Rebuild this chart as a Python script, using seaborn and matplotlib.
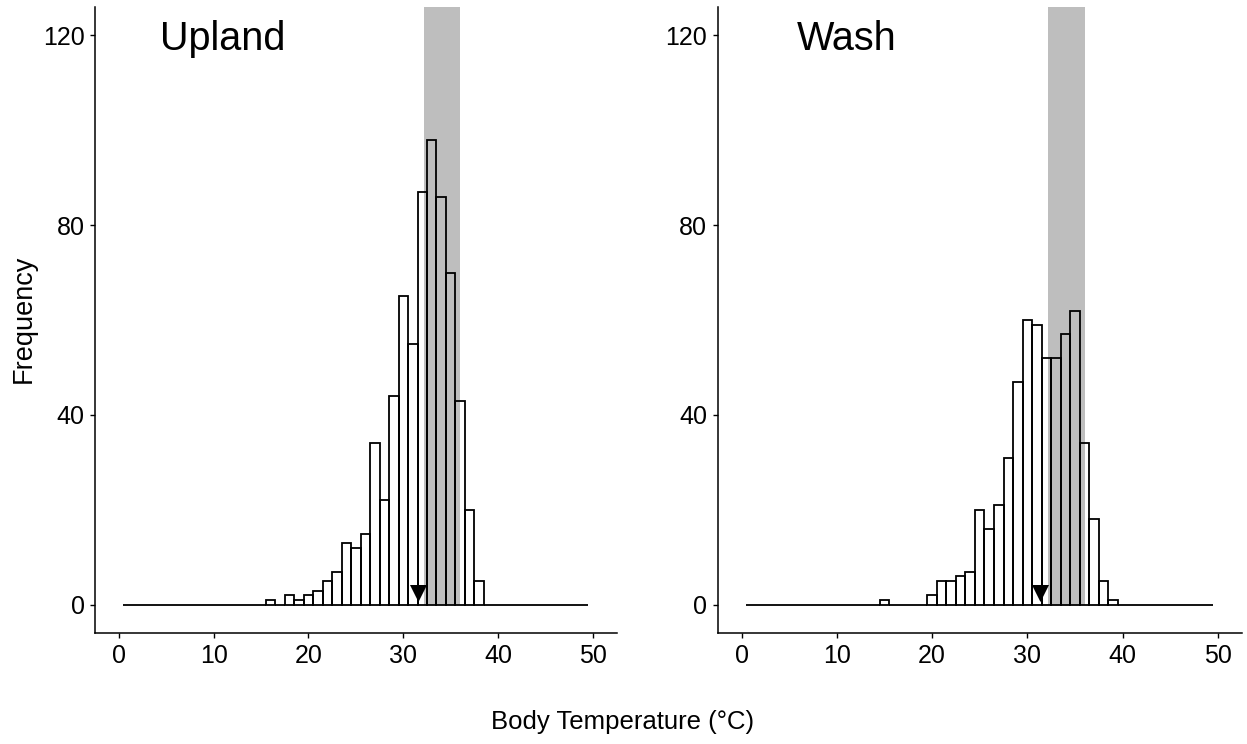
import numpy as np
import pandas as pd
import matplotlib
matplotlib.use("Agg")
import matplotlib.pyplot as plt
import seaborn as sns

# ---- data ----
bin_range = (0.5, 49.5)   # 1 °C bins spanning 0.5 .. 49.5
bin_width = 1.0

upland_temp = [16, 17, 18, 19, 20, 21, 22, 23, 24, 25, 26, 27, 28, 29, 30, 31,
               32, 33, 34, 35, 36, 37, 38]
upland_count = [1, 0, 2, 1, 2, 3, 5, 7, 13, 12, 15, 34, 22, 44, 65, 55,
                87, 98, 86, 70, 43, 20, 5]

wash_temp = [15, 20, 21, 22, 23, 24, 25, 26, 27, 28, 29, 30, 31, 32, 33, 34,
             35, 36, 37, 38, 39]
wash_count = [1, 2, 5, 5, 6, 7, 20, 16, 21, 31, 47, 60, 59, 52, 52, 57,
              62, 34, 18, 5, 1]

panel_titles = ["Upland", "Wash"]
mean_temp = [31.6, 31.3]          # triangle markers
pref_range = [32.2, 36.0]         # shaded preferred-temperature band
x_ticks = [0, 10, 20, 30, 40, 50]
y_ticks = [0, 40, 80, 120]

# ---- style ----
sns.set_style("ticks")
plt.rcParams["font.family"] = ["Liberation Sans", "DejaVu Sans"]
plt.rcParams["text.color"] = "black"
plt.rcParams["axes.labelcolor"] = "black"
plt.rcParams["axes.edgecolor"] = "black"
plt.rcParams["axes.linewidth"] = 1.1
plt.rcParams["xtick.color"] = "black"
plt.rcParams["ytick.color"] = "black"
plt.rcParams["xtick.labelcolor"] = "black"
plt.rcParams["ytick.labelcolor"] = "black"

W, H, DPI = 1247, 744, 100
fig = plt.figure(figsize=(W / DPI, H / DPI), dpi=DPI)

bottom = (H - 633.3) / H
top = (H - 6.7) / H
axes_px = [(95, 616.7), (717.7, 1241.7)]

datasets = [(upland_temp, upland_count), (wash_temp, wash_count)]

for i, ((l, r), (temps, counts)) in enumerate(zip(axes_px, datasets)):
    ax = fig.add_axes([l / W, bottom, (r - l) / W, top - bottom])
    ymin, ymax = -6, 126
    ax.fill_between(pref_range, 0, ymax, color="#BEBEBE", linewidth=0, zorder=1)
    df = pd.DataFrame({"temp": temps, "count": counts})
    sns.histplot(data=df, x="temp", weights="count", binwidth=bin_width,
                 binrange=bin_range, fill=False, color="black", linewidth=1.3,
                 ax=ax, zorder=2)
    mdf = pd.DataFrame({"temp": [mean_temp[i]], "y": [2.4]})
    sns.scatterplot(data=mdf, x="temp", y="y", marker="v", s=150,
                    color="black", linewidth=0, ax=ax, zorder=3)
    ax.set_xlim(-2.5, 52.5)
    ax.set_ylim(ymin, ymax)
    ax.set_xticks(x_ticks)
    ax.set_yticks(y_ticks)
    ax.tick_params(axis="both", labelsize=18, length=3.5, width=1.0, pad=4,
                   labelcolor="black")
    ax.set_xlabel("")
    ax.set_ylabel("")
    ax.text(11, 116.8, panel_titles[i], ha="center", va="baseline",
            fontsize=28.5, color="black")
    for s in ["top", "right"]:
        ax.spines[s].set_visible(False)

fig.text(0.499, 0.0296, "Body Temperature (°C)", ha="center", va="center",
         fontsize=18.5, color="black")
fig.text(0.019, 0.572, "Frequency", ha="center", va="center",
         rotation=90, fontsize=19.5, color="black")

fig.savefig("out.png", dpi=DPI)
